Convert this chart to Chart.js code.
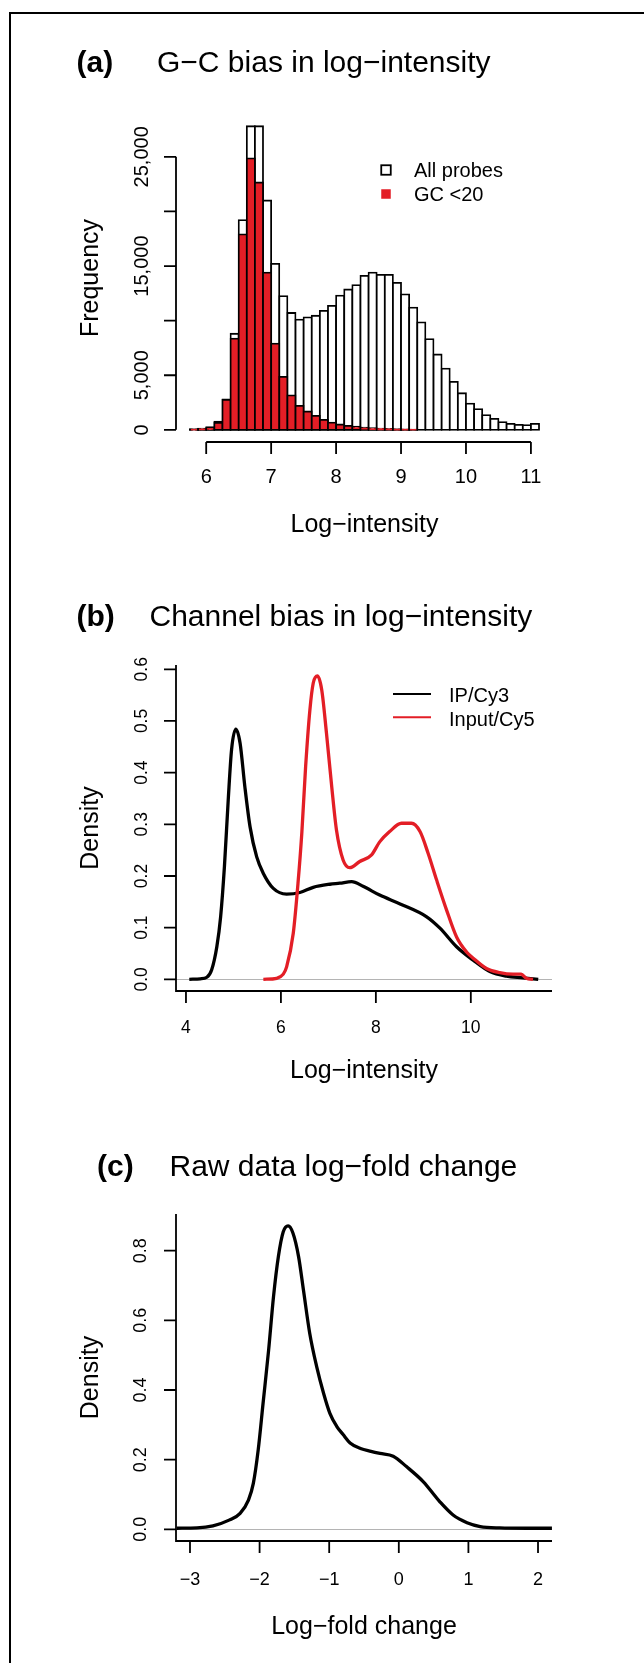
<!DOCTYPE html>
<html>
<head>
<meta charset="utf-8">
<script src="https://cdn.jsdelivr.net/npm/chart.js@4.4.1/dist/chart.umd.min.js"></script>
<style>
  html, body { margin: 0; padding: 0; background: #fff; }
  #page { position: relative; width: 644px; height: 1663px; overflow: hidden; }
  #frame { position: absolute; left: 9px; top: 12px; width: 700px; height: 1700px;
           border-left: 2px solid #000; border-top: 2px solid #000; }
  canvas { position: absolute; left: 0; }
</style>
</head>
<body>
<div id="page">
  <div id="frame"></div>
  <canvas id="chartA" width="644" height="560" style="top:0px"></canvas>
  <canvas id="chartB" width="644" height="550" style="top:560px"></canvas>
  <canvas id="chartC" width="644" height="553" style="top:1110px"></canvas>
</div>
<script>
const FONT = '"Liberation Sans", Arial, Helvetica, sans-serif'
const MINUS = '\u2212'
const RED = '#E31E26'

// (a) histogram, bins 0.125 wide
const binCentres = [5.8125, 5.9375, 6.0625, 6.1875, 6.3125, 6.4375, 6.5625, 6.6875, 6.8125, 6.9375,
  7.0625, 7.1875, 7.3125, 7.4375, 7.5625, 7.6875, 7.8125, 7.9375, 8.0625, 8.1875,
  8.3125, 8.4375, 8.5625, 8.6875, 8.8125, 8.9375, 9.0625, 9.1875, 9.3125, 9.4375,
  9.5625, 9.6875, 9.8125, 9.9375, 10.0625, 10.1875, 10.3125, 10.4375, 10.5625, 10.6875,
  10.8125, 10.9375, 11.0625]
const allProbes = [60, 120, 250, 750, 2800, 8800, 19200, 27800, 27800, 21000,
  15200, 12250, 10700, 10100, 10300, 10450, 10900, 11350, 12300, 12850,
  13250, 14100, 14400, 14200, 14200, 13450, 12400, 11200, 9850, 8300,
  6900, 5600, 4400, 3350, 2400, 1900, 1350, 1000, 700, 550,
  450, 430, 550]
// null = no visible bar
const gcBelow20 = [40, 80, 180, 650, 2750, 8350, 17900, 24850, 22650, 14400,
  7900, 4850, 3150, 2200, 1680, 1280, 920, 670, 490, 370,
  300, 210, 150, 110, 80, 60, 40, 30, null, null,
  null, null, null, null, null, null, null, null, null, null,
  null, null, null]
const histTicksX = [6, 7, 8, 9, 10, 11]
const histTicksY = [0, 5000, 10000, 15000, 20000, 25000]
const histLabelsY = ['0', '5,000', '', '15,000', '', '25,000']

// (b) channel densities
const ipX = [4.07, 4.30, 4.44, 4.54, 4.65, 4.73, 4.81, 4.89, 4.96, 5.05,
  5.14, 5.24, 5.35, 5.49, 5.63, 5.84, 6.12, 6.40, 6.68, 7.03,
  7.24, 7.49, 7.73, 8.08, 8.51, 9.07, 9.35, 9.70, 10.05, 10.40,
  10.75, 11.10, 11.42]
const ipY = [0.000, 0.001, 0.004, 0.018, 0.063, 0.121, 0.218, 0.347, 0.444, 0.484,
  0.457, 0.373, 0.295, 0.237, 0.205, 0.176, 0.165, 0.168, 0.178, 0.184,
  0.186, 0.189, 0.180, 0.163, 0.146, 0.121, 0.099, 0.063, 0.037, 0.015,
  0.006, 0.003, 0.000]
const inputX = [5.63, 5.91, 6.05, 6.12, 6.26, 6.36, 6.44, 6.52, 6.61, 6.68,
  6.77, 6.86, 6.96, 7.07, 7.17, 7.31, 7.45, 7.66, 7.91, 8.08,
  8.29, 8.54, 8.75, 8.93, 9.10, 9.28, 9.49, 9.70, 9.91, 10.05,
  10.33, 10.61, 10.89, 11.06, 11.17, 11.31]
const inputY = [0.000, 0.002, 0.010, 0.024, 0.089, 0.186, 0.283, 0.411, 0.521, 0.573,
  0.587, 0.560, 0.476, 0.373, 0.289, 0.231, 0.216, 0.228, 0.241, 0.266,
  0.286, 0.302, 0.302, 0.286, 0.244, 0.192, 0.134, 0.082, 0.053, 0.041,
  0.021, 0.013, 0.010, 0.010, 0.002, 0.000]
const chanTicksX = [4, 6, 8, 10]
const chanTicksY = [0, 0.1, 0.2, 0.3, 0.4, 0.5, 0.6]
const chanLabelsY = ['0.0', '0.1', '0.2', '0.3', '0.4', '0.5', '0.6']

// (c) raw log-fold change density
const lfcX = [-3.19, -2.90, -2.67, -2.43, -2.28, -2.16, -2.09, -2.02, -1.95, -1.87,
  -1.80, -1.73, -1.66, -1.59, -1.52, -1.44, -1.37, -1.28, -1.18, -1.08,
  -0.99, -0.89, -0.80, -0.70, -0.55, -0.40, -0.27, -0.08, 0.11, 0.35,
  0.59, 0.78, 0.98, 1.17, 1.45, 1.84, 2.20]
const lfcY = [0.003, 0.004, 0.010, 0.027, 0.046, 0.084, 0.132, 0.228, 0.362, 0.515,
  0.668, 0.783, 0.854, 0.871, 0.850, 0.783, 0.687, 0.563, 0.467, 0.390,
  0.333, 0.295, 0.272, 0.248, 0.232, 0.224, 0.218, 0.210, 0.180, 0.137,
  0.079, 0.041, 0.019, 0.008, 0.004, 0.003, 0.003]
const lfcTicksX = [-3, -2, -1, 0, 1, 2]
const lfcTicksY = [0, 0.2, 0.4, 0.6, 0.8]
const lfcLabelsY = ['0.0', '0.2', '0.4', '0.6', '0.8']

const pts = (xs, ys) => xs.map((x, i) => ({ x: x, y: ys[i] }))

Chart.defaults.font.family = FONT
Chart.defaults.color = '#000'

// R-like axes, rotated y labels, panel title and legend
const rPanel = {
  id: 'rPanel',
  beforeDatasetsDraw(chart, args, o) {
    if (!o.zeroLine) return
    const { ctx, chartArea: a, scales: { y } } = chart
    const y0 = Math.round(y.getPixelForValue(0)) + 0.5
    ctx.save()
    ctx.strokeStyle = '#b4b4b4'
    ctx.lineWidth = 1
    ctx.beginPath()
    ctx.moveTo(a.left, y0)
    ctx.lineTo(a.right, y0)
    ctx.stroke()
    ctx.restore()
  },
  afterDraw(chart, args, o) {
    const { ctx, chartArea: a, scales: { x, y } } = chart
    const tick = 12
    const xt = o.xTicks, yt = o.yTicks
    ctx.save()
    ctx.strokeStyle = '#000'
    ctx.fillStyle = '#000'
    ctx.lineWidth = 1.8
    ctx.beginPath()
    if (o.box) {
      ctx.moveTo(a.left, a.top)
      ctx.lineTo(a.left, a.bottom)
      ctx.lineTo(a.right, a.bottom)
    } else {
      ctx.moveTo(a.left, y.getPixelForValue(yt[0]))
      ctx.lineTo(a.left, y.getPixelForValue(yt[yt.length - 1]))
      ctx.moveTo(x.getPixelForValue(xt[0]), a.bottom)
      ctx.lineTo(x.getPixelForValue(xt[xt.length - 1]), a.bottom)
    }
    xt.forEach(v => {
      const px = x.getPixelForValue(v)
      ctx.moveTo(px, a.bottom)
      ctx.lineTo(px, a.bottom + tick)
    })
    yt.forEach(v => {
      const py = y.getPixelForValue(v)
      ctx.moveTo(a.left, py)
      ctx.lineTo(a.left - tick, py)
    })
    ctx.stroke()

    // y tick labels, parallel to the axis
    ctx.font = o.ySize + 'px ' + FONT
    ctx.textAlign = 'center'
    ctx.textBaseline = 'alphabetic'
    yt.forEach((v, i) => {
      ctx.save()
      ctx.translate(o.yLabelX + 0.358 * o.ySize, y.getPixelForValue(v))
      ctx.rotate(-Math.PI / 2)
      ctx.fillText(o.yLabels[i], 0, 0)
      ctx.restore()
    })

    // panel title
    ctx.textAlign = 'left'
    ctx.font = 'bold 30px ' + FONT
    ctx.fillText(o.tag, o.tagX, o.baseline)
    ctx.font = '30px ' + FONT
    ctx.fillText(o.title, o.titleX, o.baseline)

    // legend
    const L = o.legend
    if (L) {
      ctx.font = L.size + 'px ' + FONT
      chart.data.datasets.forEach((ds, i) => {
        const cy = L.ys[i]
        if (L.kind === 'box') {
          const s = L.box
          ctx.fillStyle = ds.backgroundColor
          ctx.fillRect(L.x - s / 2, cy - s / 2, s, s)
          if (L.border[i]) {
            ctx.lineWidth = 1.8
            ctx.strokeStyle = '#000'
            ctx.strokeRect(L.x - s / 2, cy - s / 2, s, s)
          }
        } else {
          ctx.strokeStyle = ds.borderColor
          ctx.lineWidth = 2
          ctx.beginPath()
          ctx.moveTo(L.x1, cy)
          ctx.lineTo(L.x2, cy)
          ctx.stroke()
        }
        ctx.fillStyle = '#000'
        ctx.fillText(ds.label, L.textX, L.textYs[i] + 0.358 * L.size)
      })
    }
    ctx.restore()
  }
}

function rScales(o) {
  return {
    x: {
      type: 'linear', min: o.xMin, max: o.xMax, bounds: 'data', offset: false,
      grid: { display: false, drawTicks: false, offset: false }, border: { display: false },
      afterBuildTicks: s => { s.ticks = o.xTicks.map(v => ({ value: v })) },
      afterFit: s => { s.height = o.xHeight },
      ticks: {
        autoSkip: false, maxRotation: 0, minRotation: 0, padding: o.xPad, color: '#000',
        font: { family: FONT, size: o.xSize },
        callback: v => String(v).replace('-', MINUS)
      },
      title: {
        display: true, text: o.xTitle, color: '#000',
        font: { family: FONT, size: 25 }, padding: { top: 0, bottom: o.xTitlePad }
      }
    },
    y: {
      type: 'linear', min: o.yMin, max: o.yMax, bounds: 'data', beginAtZero: false,
      grid: { display: false, drawTicks: false }, border: { display: false },
      afterBuildTicks: s => { s.ticks = o.yTicks.map(v => ({ value: v })) },
      afterFit: s => { s.width = 176 },
      ticks: { display: false },
      title: {
        display: true, text: o.yTitle, color: '#000',
        font: { family: FONT, size: 25 }, padding: { top: 76, bottom: 0 }
      }
    }
  }
}

function baseOptions(o, panel) {
  return {
    responsive: false,
    animation: false,
    devicePixelRatio: 1,
    layout: { padding: { left: 0, right: o.padRight, top: o.padTop, bottom: 0 } },
    scales: rScales(o),
    plugins: { legend: { display: false }, tooltip: { enabled: false }, rPanel: panel }
  }
}

// (a)
new Chart(document.getElementById('chartA'), {
  type: 'bar',
  data: {
    datasets: [
      {
        label: 'All probes',
        data: pts(binCentres, allProbes),
        backgroundColor: '#ffffff', borderColor: '#000', borderWidth: 1.8,
        borderSkipped: false, inflateAmount: 0.9,
        barPercentage: 1, categoryPercentage: 1, grouped: false, order: 2
      },
      {
        label: 'GC <20',
        data: pts(binCentres, gcBelow20),
        backgroundColor: RED, borderColor: '#000', borderWidth: 1.8,
        borderSkipped: false, inflateAmount: 0.9,
        barPercentage: 1, categoryPercentage: 1, grouped: false, order: 1
      }
    ]
  },
  options: baseOptions({
    xMin: 5.535, xMax: 11.34, yMin: -1112, yMax: 28922,
    xTicks: histTicksX, yTicks: histTicksY,
    xHeight: 118, xPad: 23.5, xSize: 20, xTitle: 'Log' + MINUS + 'intensity', xTitlePad: 19.5,
    yTitle: 'Frequency', padRight: 91, padTop: 114
  }, {
    box: false, xTicks: histTicksX, yTicks: histTicksY, yLabels: histLabelsY,
    yLabelX: 141, ySize: 20,
    tag: '(a)', tagX: 76.5, title: 'G' + MINUS + 'C bias in log' + MINUS + 'intensity', titleX: 157, baseline: 72,
    legend: { kind: 'box', x: 386, ys: [170, 194], box: 9.5, border: [true, false], textX: 414, textYs: [170, 194], size: 20 }
  }),
  plugins: [rPanel]
})

// (b)
new Chart(document.getElementById('chartB'), {
  type: 'line',
  data: {
    datasets: [
      {
        label: 'IP/Cy3', data: pts(ipX, ipY), borderColor: '#000', borderWidth: 3.3,
        pointRadius: 0, fill: false, cubicInterpolationMode: 'monotone', order: 2
      },
      {
        label: 'Input/Cy5', data: pts(inputX, inputY), borderColor: RED, borderWidth: 3.3,
        pointRadius: 0, fill: false, cubicInterpolationMode: 'monotone', order: 1
      }
    ]
  },
  options: baseOptions({
    xMin: 3.79, xMax: 11.71, yMin: -0.0226, yMax: 0.6083,
    xTicks: chanTicksX, yTicks: chanTicksY,
    xHeight: 119, xPad: 27, xSize: 17.5, xTitle: 'Log' + MINUS + 'intensity', xTitlePad: 24,
    yTitle: 'Density', padRight: 92, padTop: 105
  }, {
    box: true, zeroLine: true, xTicks: chanTicksX, yTicks: chanTicksY, yLabels: chanLabelsY,
    yLabelX: 141, ySize: 17.5,
    tag: '(b)', tagX: 76.5, title: 'Channel bias in log' + MINUS + 'intensity', titleX: 149.5, baseline: 66,
    legend: { kind: 'line', x1: 393, x2: 431, ys: [134, 157.3], textX: 449, textYs: [135, 158.5], size: 20 }
  }),
  plugins: [rPanel]
})

// (c)
new Chart(document.getElementById('chartC'), {
  type: 'line',
  data: {
    datasets: [
      {
        label: 'Log-fold change', data: pts(lfcX, lfcY), borderColor: '#000', borderWidth: 3.3,
        pointRadius: 0, fill: false, cubicInterpolationMode: 'monotone'
      }
    ]
  },
  options: baseOptions({
    xMin: -3.201, xMax: 2.201, yMin: -0.0336, yMax: 0.9053,
    xTicks: lfcTicksX, yTicks: lfcTicksY,
    xHeight: 122, xPad: 28, xSize: 18, xTitle: 'Log' + MINUS + 'fold change', xTitlePad: 21,
    yTitle: 'Density', padRight: 92, padTop: 104
  }, {
    box: true, zeroLine: true, xTicks: lfcTicksX, yTicks: lfcTicksY, yLabels: lfcLabelsY,
    yLabelX: 140, ySize: 18,
    tag: '(c)', tagX: 97, title: 'Raw data log' + MINUS + 'fold change', titleX: 169.5, baseline: 66,
    legend: null
  }),
  plugins: [rPanel]
})
</script>
</body>
</html>
